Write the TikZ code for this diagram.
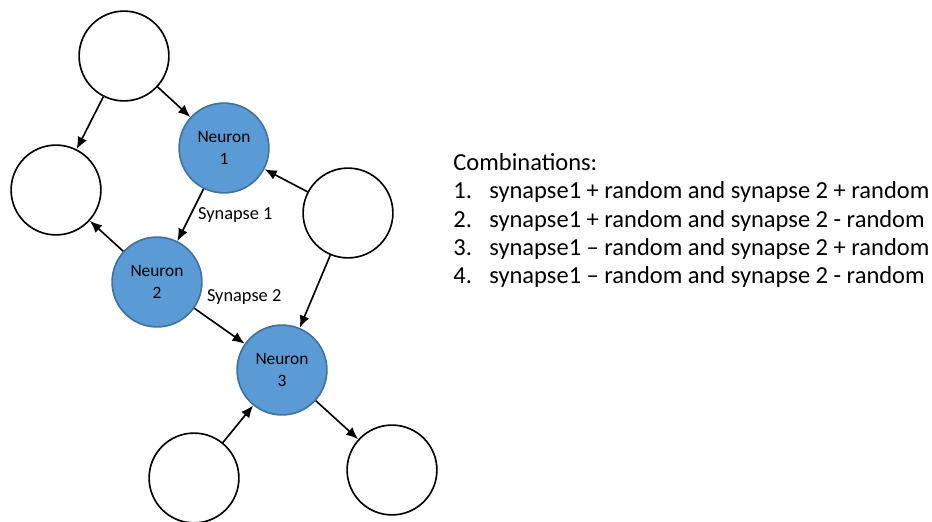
\documentclass[tikz,border=0pt]{standalone}
\usepackage{fontspec}
\setmainfont{Carlito}
\usetikzlibrary{arrows.meta}
\definecolor{neuronblue}{RGB}{91,155,213}
\definecolor{neuronedge}{RGB}{65,113,156}

\begin{document}
\begin{tikzpicture}[x=0.49pt,y=-0.49pt]
	\useasboundingbox (0,0) rectangle (932,521);

	\begin{scope}[every node/.style={circle,thick,draw=black,fill=white, minimum size = 44pt, inner sep=0pt}]
	    \node (T) at (124,56) {};
	    \node (L) at (56,190) {};
	    \node (R) at (348,213) {};
	    \node (BL) at (194,478) {};
	    \node (BR) at (392,470) {};
	\end{scope}

	\begin{scope}[every node/.style={circle,thick,draw=neuronedge,fill=neuronblue, minimum size = 44pt, inner sep=0pt, align=center, font=\fontsize{8.5}{11}\selectfont}]
	    \node (N1) at (224,148) {Neuron\\1};
	    \node (N2) at (157,282) {Neuron\\2};
	    \node (N3) at (282,370) {Neuron\\3};
	\end{scope}

	\begin{scope}[>={Latex[length=6pt,width=5pt]},
	              every edge/.style={draw=black,thick},
	              every node/.style={font=\fontsize{9}{11}\selectfont}]
    	\path [->] (T) edge (N1);
    	\path [->] (T) edge (L);
    	\path [->] (R) edge (N1);
    	\path [->] (N1) edge node[right] {Synapse 1} (N2);
    	\path [->] (N2) edge (L);
    	\path [->] (N2) edge node[above right, pos=0.1] {Synapse 2} (N3);
    	\path [->] (R) edge (N3);
    	\path [->] (BL) edge (N3);
    	\path [->] (N3) edge (BR);
	\end{scope}

	\begin{scope}[every node/.style={anchor=base west, inner sep=0pt, font=\fontsize{12}{14}\selectfont}]
	    \node (head) at (453,170) {Combinations:};
	    \node (n1) at (453,198) {1.};
	    \node (c1) at (489,198) {synapse1 + random and synapse 2 + random};
	    \node (n2) at (453,227) {2.};
	    \node (c2) at (489,227) {synapse1 + random and synapse 2 - random};
	    \node (n3) at (453,255) {3.};
	    \node (c3) at (489,255) {synapse1 -- random and synapse 2 + random};
	    \node (n4) at (453,283) {4.};
	    \node (c4) at (489,283) {synapse1 -- random and synapse 2 - random};
	\end{scope}
\end{tikzpicture}
\end{document}
